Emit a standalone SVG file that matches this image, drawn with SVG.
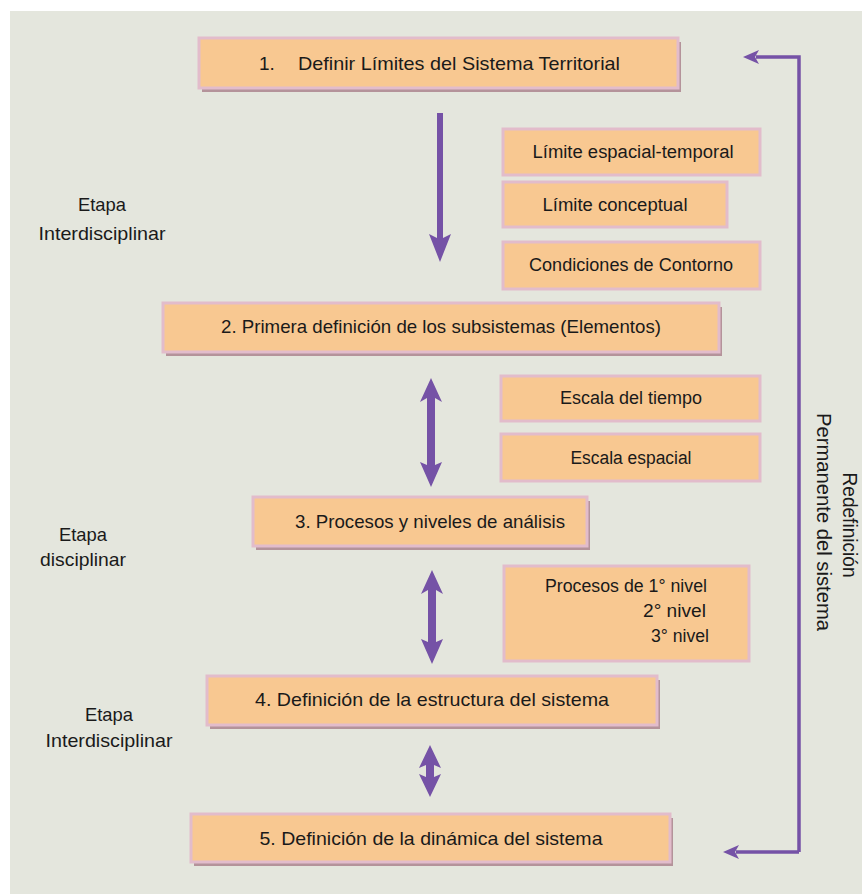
<svg xmlns="http://www.w3.org/2000/svg" width="862" height="894" viewBox="0 0 862 894">
<defs>
<style>
.bg{fill:#e4e6dd}
.box{fill:#f8c891;stroke:#e2bccb;stroke-width:3}
.shadow{fill:#b4939a}
.t{font-family:"Liberation Sans",Arial,sans-serif;font-size:19px;fill:#1a1a1a}
.lbl{font-family:"Liberation Sans",Arial,sans-serif;font-size:19px;fill:#1a1a1a;text-anchor:middle}
.sm{font-size:18px}
.vt{font-family:"Liberation Sans",Arial,sans-serif;font-size:20px;fill:#1a1a1a;text-anchor:middle}
.arr{fill:#7552a6;stroke:none}
.fb{stroke:#7552a6;stroke-width:3.5;fill:none}
</style>
<marker id="hs" viewBox="0 0 16 14" refX="3" refY="7" markerWidth="16" markerHeight="14" markerUnits="userSpaceOnUse" orient="auto">
<path d="M0,0 L16,7 L0,14 L4,7 Z" fill="#7552a6"/>
</marker>
</defs>
<rect class="bg" x="10" y="11" width="852" height="883"/>

<g id="n1">
<rect class="shadow" x="202" y="42" width="479" height="50"/>
<rect class="box" x="199" y="38" width="479" height="50"/>
<text class="t" x="259" y="70">1.</text>
<text class="t" x="298" y="70" textLength="322" lengthAdjust="spacingAndGlyphs">Definir Límites del Sistema Territorial</text>
</g>
<g id="s1">
<rect class="box" x="503" y="129" width="257" height="46"/>
<text class="lbl sm" x="633" y="158" textLength="201" lengthAdjust="spacingAndGlyphs">Límite espacial-temporal</text>
</g>
<g id="s2">
<rect class="box" x="503" y="182" width="224" height="45"/>
<text class="lbl sm" x="615" y="211" textLength="145" lengthAdjust="spacingAndGlyphs">Límite conceptual</text>
</g>
<g id="s3">
<rect class="box" x="503" y="242" width="257" height="47"/>
<text class="lbl sm" x="631" y="271" textLength="204" lengthAdjust="spacingAndGlyphs">Condiciones de Contorno</text>
</g>
<g id="n2">
<rect class="shadow" x="166" y="307" width="556" height="49"/>
<rect class="box" x="163" y="303" width="556" height="49"/>
<text class="lbl" x="441" y="333" textLength="440" lengthAdjust="spacingAndGlyphs">2. Primera definición de los subsistemas (Elementos)</text>
</g>
<g id="s4">
<rect class="box" x="501" y="376" width="259" height="45"/>
<text class="lbl sm" x="631" y="404" textLength="142" lengthAdjust="spacingAndGlyphs">Escala del tiempo</text>
</g>
<g id="s5">
<rect class="box" x="501" y="434" width="259" height="47"/>
<text class="lbl sm" x="631" y="464" textLength="121" lengthAdjust="spacingAndGlyphs">Escala espacial</text>
</g>
<g id="n3">
<rect class="shadow" x="256" y="501" width="334" height="49"/>
<rect class="box" x="253" y="497" width="334" height="49"/>
<text class="t" x="295" y="528" textLength="270" lengthAdjust="spacingAndGlyphs">3. Procesos y niveles de análisis</text>
</g>
<g id="s6">
<rect class="box" x="504" y="566" width="245" height="95"/>
<text class="t sm" x="545" y="592" textLength="162" lengthAdjust="spacingAndGlyphs">Procesos de 1° nivel</text>
<text class="t sm" x="643" y="617" textLength="63" lengthAdjust="spacingAndGlyphs">2° nivel</text>
<text class="t sm" x="651" y="642" textLength="58" lengthAdjust="spacingAndGlyphs">3° nivel</text>
</g>
<g id="n4">
<rect class="shadow" x="210" y="680" width="450" height="49"/>
<rect class="box" x="207" y="676" width="450" height="49"/>
<text class="lbl" x="432" y="706" textLength="354" lengthAdjust="spacingAndGlyphs">4. Definición de la estructura del sistema</text>
</g>
<g id="n5">
<rect class="shadow" x="194" y="818" width="479" height="48"/>
<rect class="box" x="191" y="814" width="479" height="48"/>
<text class="lbl" x="431" y="845" textLength="343" lengthAdjust="spacingAndGlyphs">5. Definición de la dinámica del sistema</text>
</g>

<g id="etapa1">
<text class="lbl" x="102" y="211" textLength="48" lengthAdjust="spacingAndGlyphs">Etapa</text>
<text class="lbl" x="102" y="240" textLength="127" lengthAdjust="spacingAndGlyphs">Interdisciplinar</text>
</g>
<g id="etapa2">
<text class="lbl" x="83" y="541" textLength="48" lengthAdjust="spacingAndGlyphs">Etapa</text>
<text class="lbl" x="83" y="566" textLength="86" lengthAdjust="spacingAndGlyphs">disciplinar</text>
</g>
<g id="etapa3">
<text class="lbl" x="109" y="721" textLength="48" lengthAdjust="spacingAndGlyphs">Etapa</text>
<text class="lbl" x="109" y="747" textLength="127" lengthAdjust="spacingAndGlyphs">Interdisciplinar</text>
</g>
<g id="redef">
<text class="vt" transform="translate(843,525) rotate(90)" textLength="105" lengthAdjust="spacingAndGlyphs">Redefinición</text>
<text class="vt" transform="translate(817,522) rotate(90)" textLength="218" lengthAdjust="spacingAndGlyphs">Permanente del sistema</text>
</g>

<g id="connectors">
<path class="arr" d="M437,113 L443,113 L443,238 L451,234 L440,262 L429,234 L437,238 Z"/>
<path class="arr" d="M431,378 L442,402 L435,398 L435,465 L442,462 L431,487 L420,462 L427,465 L427,398 L420,402 Z"/>
<path class="arr" d="M432,570 L443,594 L436,590 L436,642 L443,639 L432,664 L421,639 L428,642 L428,590 L421,594 Z"/>
<path class="arr" d="M430,745 L441,768 L434,765 L434,777 L441,774 L430,797 L419,774 L426,777 L426,765 L419,768 Z"/>
<path class="fb" d="M799,852 L799,57 L756,57" marker-end="url(#hs)"/>
<path class="fb" d="M799,852 L736,852" marker-end="url(#hs)"/>
</g>
</svg>
